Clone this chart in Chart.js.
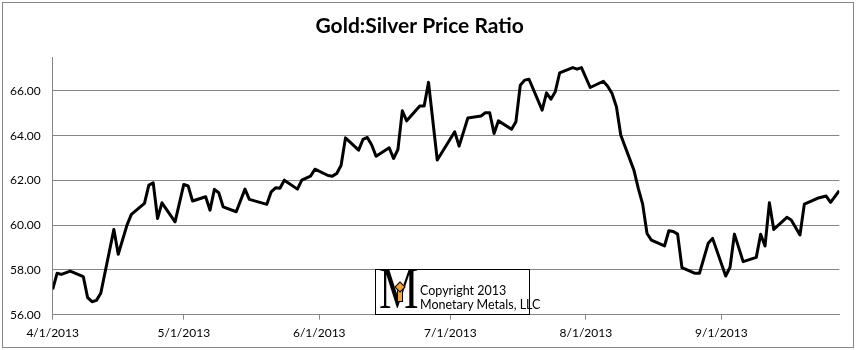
<!DOCTYPE html>
<html><head><meta charset="utf-8">
<script src="https://cdn.jsdelivr.net/npm/chart.js@4"></script>
<style>
html,body{margin:0;padding:0;background:#fff;}
#wrap{position:relative;width:856px;height:350px;overflow:hidden;}
#frame{position:absolute;left:2px;top:2px;width:850px;height:344px;border:1px solid #868686;}
#c{position:absolute;left:0;top:0;}
#logo{position:absolute;left:375px;top:269px;width:153px;height:44px;border:1px solid #000;background:#fff;}
#logoM{position:absolute;left:-6px;top:-12px;font-family:"Liberation Serif",serif;font-size:60px;line-height:60px;color:#000;transform:scaleX(0.74);transform-origin:left top;margin-left:9px;}
#gem{position:absolute;left:20px;top:13px;width:6px;height:6px;background:#f2a33a;border:1px solid #000;transform:rotate(45deg);}
#gem2{position:absolute;left:21px;top:20px;width:4px;height:10px;background:#f2a33a;border:1px solid #000;}
#txt{position:absolute;left:44px;top:14px;font-family:Lato,sans-serif;font-size:12.5px;line-height:14px;color:#000;white-space:nowrap;}
</style></head>
<body>
<div id="wrap">
<div id="frame"></div>
<canvas id="c" width="856" height="350"></canvas>
<div id="logo"><div id="logoM">M</div><div id="gem2"></div><div id="gem"></div><div id="txt">Copyright 2013<br>Monetary Metals, LLC</div></div>
</div>
<script>
const days = [0,1,2,4,7,8,9,10,11,14,15,17,18,21,22,23,24,25,28,30,31,32,35,36,37,38,39,42,44,45,49,50,51,52,53,56,57,59,60,63,64,65,66,67,70,71,72,73,74,77,78,79,80,81,84,85,86,88,92,93,95,98,99,100,101,102,105,106,107,108,109,112,113,114,115,116,119,120,121,123,126,127,128,129,130,133,134,135,136,137,140,141,142,143,144,147,148,150,151,154,155,156,158,161,162,163,164,165,168,169,171,172,175,177,178,180];
const ratio = [57.13,57.85,57.80,57.95,57.70,56.76,56.58,56.64,56.96,59.81,58.70,60.00,60.48,60.97,61.79,61.89,60.30,61.00,60.15,61.82,61.75,61.08,61.27,60.67,61.60,61.45,60.82,60.60,61.61,61.15,60.93,61.49,61.67,61.65,62.01,61.61,62.01,62.19,62.50,62.22,62.19,62.31,62.68,63.90,63.35,63.83,63.92,63.58,63.08,63.46,62.98,63.38,65.11,64.66,65.32,65.32,66.38,62.91,64.17,63.53,64.79,64.88,65.02,65.02,64.10,64.66,64.29,64.62,66.25,66.48,66.52,65.14,65.91,65.63,65.96,66.80,67.04,66.97,67.04,66.15,66.43,66.21,65.88,65.29,64.02,62.46,61.64,60.94,59.63,59.33,59.07,59.75,59.72,59.60,58.10,57.85,57.85,59.19,59.41,57.73,58.12,59.60,58.37,58.56,59.59,59.07,61.00,59.81,60.35,60.23,59.56,60.94,61.20,61.30,61.02,61.54];
const tickDays = [0,30,61,91,122,153];
const tickLabels = ['4/1/2013','5/1/2013','6/1/2013','7/1/2013','8/1/2013','9/1/2013'];
const yTicks = [56,58,60,62,64,66];

const points = days.map((d,i)=>({x:d,y:ratio[i]}));
const gridGray = '#868686';
const labelFont = {family:'Lato', size:12};

new Chart(document.getElementById('c'), {
  type:'line',
  data:{datasets:[{data:points,borderColor:'#000',borderWidth:3,pointRadius:0,tension:0,fill:false,borderJoinStyle:'round'}]},
  options:{
    responsive:false, animation:false,
    layout:{padding:{left:0,right:16.7,top:0,bottom:0}},
    plugins:{
      legend:{display:false}, tooltip:{enabled:false},
      title:{display:true,text:'Gold:Silver Price Ratio',color:'#000',
        font:{family:'Lato',size:21,weight:'bold',lineHeight:1.2},padding:{top:14,bottom:18.1}}
    },
    scales:{
      x:{type:'linear',min:0,max:180,
        afterBuildTicks:s=>{s.ticks=tickDays.map(v=>({value:v}));},
        afterFit:s=>{s.height=35.3;},
        ticks:{autoSkip:false,maxRotation:0,padding:6,font:labelFont,color:'#000',
          callback:v=>tickLabels[tickDays.indexOf(v)]},
        grid:{drawOnChartArea:false,drawTicks:true,tickLength:5,color:gridGray},
        border:{display:true,color:gridGray}},
      y:{min:56,max:67.5,
        afterBuildTicks:s=>{s.ticks=yTicks.map(v=>({value:v}));},
        afterFit:s=>{s.width=52.7;},
        ticks:{padding:12,font:labelFont,color:'#000',callback:v=>Number(v).toFixed(2)},
        grid:{color:gridGray,drawTicks:false},
        border:{display:true,color:gridGray}}
    }
  }
});
</script>
</body></html>
